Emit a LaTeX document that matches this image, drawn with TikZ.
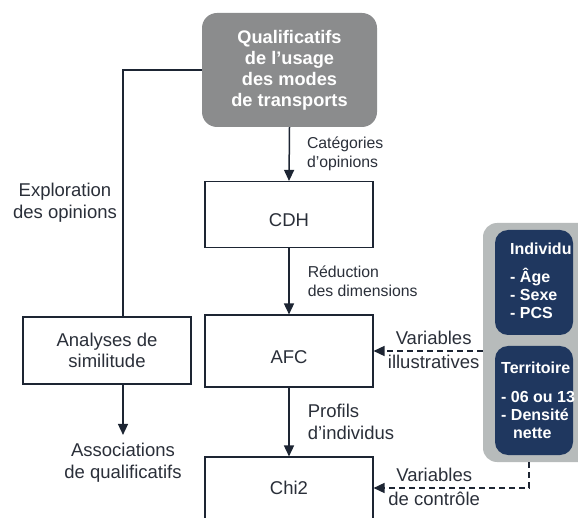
\documentclass[tikz,border=0pt]{standalone}
\usepackage{fontspec}
\setmainfont{Liberation Sans}
\usepackage{xcolor}
\usepackage{tikz}
\usetikzlibrary{positioning,calc,arrows.meta}
\definecolor{linedark}{RGB}{29,37,51}
\definecolor{textdark}{RGB}{42,47,57}
\definecolor{qualgray}{RGB}{139,140,141}
\definecolor{panelgray}{RGB}{183,187,187}
\definecolor{navy}{RGB}{31,55,95}
\tikzset{
    box/.style={draw=linedark, line width=1.1pt, fill=white, minimum width=168pt, text=textdark,
        font=\fontsize{18.5}{21}\selectfont, align=center, inner sep=0pt},
    onebox/.style={box, text height=25pt, text depth=0pt},
    big/.style={text=textdark, inner sep=0pt, font=\fontsize{18.5}{21.5}\selectfont},
    small/.style={text=textdark, inner sep=0pt, font=\fontsize{15.8}{19}\selectfont},
    varbox/.style={fill=navy, rounded corners=13pt, minimum width=78pt},
    vartext/.style={text=white, inner sep=0pt, align=left, font=\fontsize{16}{18}\selectfont\bfseries},
    line/.style={draw=linedark, line width=1.5pt},
    arr/.style={line, -{Triangle[length=11pt,width=10pt]}},
    dasharr/.style={arr, dash pattern=on 6pt off 4pt}
}

\begin{document}
\begin{tikzpicture}[x=1pt, y=-1pt]
    \useasboundingbox (0,0) rectangle (578,518);
    \clip (0,0) rectangle (578,518);
    % Main chain
    \node[fill=qualgray, rounded corners=15pt, minimum width=175pt, minimum height=114pt, inner sep=0pt,
        text=white, align=center, font=\fontsize{18.2}{21}\selectfont\bfseries] (qual) at (289.5,70)
        {Qualificatifs\\de l'usage\\des modes\\de transports};
    \node[onebox, minimum height=66pt] (cdh) at (289,214.5) {CDH};
    \node[onebox, minimum height=72pt] (afc) at (289,351) {AFC};
    \node[box, minimum height=62pt] (chi) at (289,488) {Chi2};
    \draw[arr] (qual.south) -- node[small, right=17pt, align=left] {Catégories\\d'opinions} (cdh.north);
    \draw[arr] (cdh.south) -- node[small, right=18pt, align=left] {Réduction\\des dimensions} (afc.north);
    \draw[arr] (afc.south) -- node[big, right=18pt, align=left] {Profils\\d'individus} (chi.north);
    % Left branch
    \node[box, minimum height=67pt] (ana) at (107,350.5) {Analyses de\\similitude};
    \node[big, align=center] (expl) at (65,202.5) {Exploration\\des opinions};
    \node[big, align=center] (assoc) at (123,462.5) {Associations\\de qualificatifs};
    \draw[line] (qual.west) -| ([xshift=16pt]ana.north);
    \draw[arr, shorten >=8pt] ([xshift=16pt]ana.south) -- (assoc.north);
    % Variables panel
    \node[fill=panelgray, rounded corners=14pt, minimum width=112pt, minimum height=239pt] (panel) at (539,342.5) {};
    \node[varbox, minimum height=105pt] (indiv) at (534,282.5) {};
    \node[varbox, minimum height=109pt] (terr) at (534,400.5) {};
    \node[vartext, anchor=north west] (indivtxt) at (510,243) {Individu\\[10pt]- Âge\\- Sexe\\- PCS};
    \node[vartext, anchor=north west] (terrtxt) at (501,362) {Territoire\\[11pt]- 06 ou 13\\- Densité\\\hspace*{12pt}nette};
    \draw[dasharr] (panel.west |- afc.east) -- node[big, pos=0.45, above=6pt] {Variables}
        node[big, pos=0.45, below=3pt] {illustratives} (afc.east);
    \draw[dasharr] ([xshift=-10pt]panel.south) |- node[big, pos=0.805, above=6pt] {Variables}
        node[big, pos=0.805, below=3pt] {de contrôle} (chi.east);
\end{tikzpicture}
\end{document}
